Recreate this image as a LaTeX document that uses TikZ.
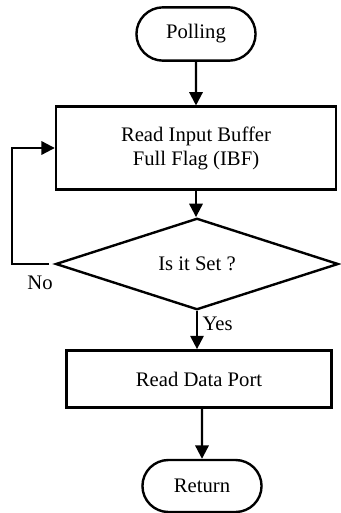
\documentclass[tikz,border=0pt]{standalone}
\usepackage{fontspec}
\setmainfont{Liberation Serif}
\usetikzlibrary{shapes}
\usetikzlibrary{arrows.meta}

\begin{document}
\begin{tikzpicture}[x=0.75pt,y=-0.75pt]
    \tikzstyle{every node}  = [font=\fontsize{15.5}{18}\selectfont]
    \tikzstyle{terminal}    = [rounded rectangle,draw,line width=1.8pt,minimum width=96pt,minimum height=40pt]
    \tikzstyle{process}     = [rectangle,draw,line width=1.8pt,align=center]
    \tikzstyle{decision}    = [diamond,draw,line width=1.8pt,inner sep=0pt,minimum width=212pt,minimum height=48pt]
    \tikzstyle{flow}        = [-{Triangle[length=10pt,width=10pt]},black,line width=1.6pt]

    \useasboundingbox (0,0) rectangle (341,513);

    \node[terminal]                                         (poll) at (196,34)  {Polling};
    \node[process,minimum width=210pt,minimum height=62pt]  (read) at (196,148) {Read Input Buffer\\Full Flag (IBF)};
    \node[decision]                                         (test) at (197,264) {Is it Set ?};
    \node[process,minimum width=199pt,minimum height=43pt]  (port) at (199,379) {Read Data Port};
    \node[terminal,minimum height=39pt]                     (ret)  at (202,486) {Return};
    \coordinate                                             (back) at (12,264);

    \draw[flow] (poll) -- (read);
    \draw[flow] (read.south) -- (read.south |- test.north);
    \draw[flow] (test.south) -- (test.south |- port.north) node[pos=0.33,right] {Yes};
    \draw[flow] (ret.north |- port.south) -- (ret);
    \draw[flow] ([xshift=-4pt]test.west) -- (back) |- (read.west);

    \node (no) at (40,283) {No};
\end{tikzpicture}
\end{document}
